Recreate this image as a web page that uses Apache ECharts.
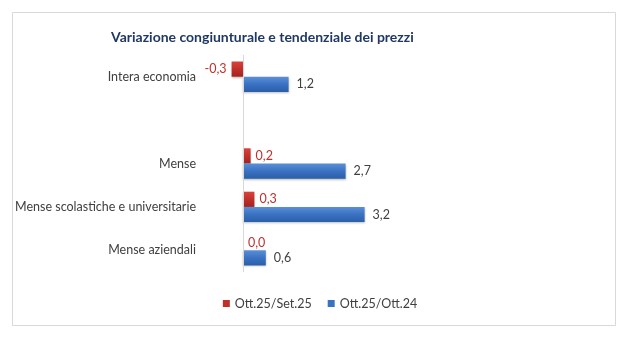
<!DOCTYPE html>
<html>
<head>
<meta charset="utf-8">
<script src="https://cdn.jsdelivr.net/npm/echarts@6/dist/echarts.min.js"></script>
<style>
  html, body { margin: 0; padding: 0; background: #ffffff; }
  #chart { width: 640px; height: 344px; }
</style>
</head>
<body>
<div id="chart"></div>
<script>
// Price changes by sector (percent)
const categories = ['Intera economia', '', 'Mense', 'Mense scolastiche e universitarie', 'Mense aziendali'];
const seriesNames = ['Ott.25/Set.25', 'Ott.25/Ott.24'];
const congiunturale = [-0.3, null, 0.2, 0.3, 0.0];
const tendenziale = [1.2, null, 2.7, 3.2, 0.6];

const FONT = 'Lato, "Open Sans", sans-serif';
const fmt = v => v.toFixed(1).replace('.', ',');

const redFill = new echarts.graphic.LinearGradient(0, 0, 0, 1, [
  { offset: 0, color: '#d9423c' },
  { offset: 0.5, color: '#c0302b' },
  { offset: 1, color: '#a3221f' }
]);
const blueFill = new echarts.graphic.LinearGradient(0, 0, 0, 1, [
  { offset: 0, color: '#5a8fd8' },
  { offset: 0.5, color: '#3a72c2' },
  { offset: 1, color: '#2a5ea8' }
]);

const chart = echarts.init(document.getElementById('chart'), null, { renderer: 'canvas' });

chart.setOption({
  animation: false,
  backgroundColor: '#ffffff',
  textStyle: { fontFamily: FONT },
  graphic: [{
    type: 'rect',
    shape: { x: 12.5, y: 12.5, width: 603, height: 313 },
    style: { fill: 'none', stroke: '#d9d9d9', lineWidth: 1 },
    z: -1
  }],
  title: {
    text: 'Variazione congiunturale e tendenziale dei prezzi',
    left: 106,
    top: 25,
    textStyle: { fontFamily: FONT, fontSize: 14, fontWeight: 'bold', color: '#1f3864' }
  },
  legend: {
    bottom: 29,
    left: 'center',
    itemWidth: 7,
    itemHeight: 7,
    itemGap: 16,
    icon: 'rect',
    textStyle: { fontFamily: FONT, fontSize: 12.5, color: '#404040' },
    data: [
      { name: seriesNames[0], itemStyle: { color: '#c0302b' } },
      { name: seriesNames[1], itemStyle: { color: '#3a72c2' } }
    ]
  },
  grid: { left: 205, width: 190, top: 55, height: 217 },
  xAxis: {
    type: 'value',
    min: -1,
    max: 4,
    show: false
  },
  yAxis: {
    type: 'category',
    inverse: true,
    data: categories,
    axisLine: { show: false },
    axisTick: { show: false },
    axisLabel: { fontFamily: FONT, fontSize: 12.5, color: '#404040', margin: 9 }
  },
  series: [
    {
      name: seriesNames[0],
      type: 'bar',
      data: congiunturale.map(v => v !== null && v < 0
        ? { value: v, label: { position: 'left', distance: 5 } }
        : v),
      barGap: '0%',
      barCategoryGap: '30%',
      itemStyle: { color: redFill, shadowColor: 'rgba(0,0,0,0.25)', shadowBlur: 2, shadowOffsetY: 1 },
      label: {
        show: true,
        position: 'right',
        distance: 5,
        fontFamily: FONT,
        fontSize: 12.5,
        color: '#c0302b',
        formatter: p => fmt(p.value)
      },
      markLine: {
        silent: true,
        symbol: 'none',
        label: { show: false },
        lineStyle: { color: '#d9d9d9', width: 1, type: 'solid' },
        data: [{ xAxis: 0 }]
      }
    },
    {
      name: seriesNames[1],
      type: 'bar',
      data: tendenziale,
      itemStyle: { color: blueFill, shadowColor: 'rgba(0,0,0,0.25)', shadowBlur: 2, shadowOffsetY: 1 },
      label: {
        show: true,
        position: 'right',
        distance: 8,
        fontFamily: FONT,
        fontSize: 12.5,
        color: '#404040',
        formatter: p => fmt(p.value)
      }
    }
  ]
});
</script>
</body>
</html>
